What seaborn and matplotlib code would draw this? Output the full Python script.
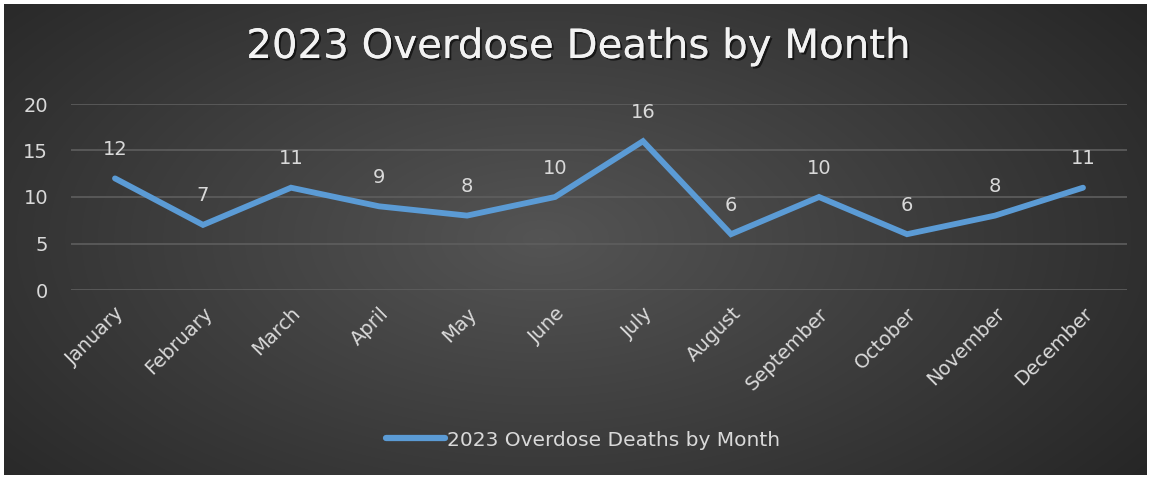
import numpy as np
import pandas as pd
import matplotlib
matplotlib.use("Agg")
import matplotlib.pyplot as plt
import matplotlib.patheffects as pe
import seaborn as sns

months = ["January", "February", "March", "April", "May", "June", "July",
          "August", "September", "October", "November", "December"]
deaths = [12, 7, 11, 9, 8, 10, 16, 6, 10, 6, 8, 11]
yticks = [0, 5, 10, 15, 20]
title = "2023 Overdose Deaths by Month"

sns.set_theme(style="dark")
plt.rcParams["font.family"] = ["DejaVu Sans"]

W, H = 1151, 479
fig = plt.figure(figsize=(W / 100, H / 100), dpi=100)
fig.patch.set_facecolor("white")

# background gradient
bg = fig.add_axes([4 / W, 4 / H, (W - 8) / W, (H - 8) / H])
yy, xx = np.mgrid[0:1:300j, 0:1:700j]
r = np.sqrt(((xx - 0.47) / 0.62) ** 2 + ((yy - 0.5) / 0.8) ** 2)
v = np.clip(0.33 - 0.17 * r, 0.15, 0.35)
img = np.dstack([v, v, v])
bg.imshow(img, aspect="auto", extent=[0, 1, 0, 1], interpolation="bilinear")
bg.set_axis_off()

ax = fig.add_axes([71 / W, 1 - 290 / H, (1127 - 71) / W, (290 - 104) / H])
ax.patch.set_alpha(0)
df = pd.DataFrame({"Month": months, "Deaths": deaths})
sns.lineplot(data=df, x="Month", y="Deaths", ax=ax, color="#5b9bd5", lw=4.2,
             sort=False, label=title, legend=False, solid_capstyle="round",
             solid_joinstyle="miter")
ax.set_xlim(-0.5, len(months) - 0.5)
ax.set_ylim(0, 20)
ax.set_yticks(yticks)
ax.yaxis.grid(True, color="#5e5e5e", lw=1.2)
ax.xaxis.grid(False)
for s in ax.spines.values():
    s.set_visible(False)
ax.set_xlabel("")
ax.set_ylabel("")
ax.tick_params(axis="y", colors="#d9d9d9", labelsize=14, pad=16.5, length=0)
ax.tick_params(axis="x", colors="#d9d9d9", labelsize=14, pad=10, length=0)
ax.set_xticks(range(len(months)))
ax.set_xticklabels(months, rotation=45, ha="right", rotation_mode="anchor")

for i, v_ in enumerate(deaths):
    ax.annotate(str(v_), (i, v_), xytext=(0, 14), textcoords="offset points",
                ha="center", va="bottom", color="#d9d9d9", fontsize=14)

fig.text(578 / W, 1 - 47 / H, title, ha="center", va="center", color="#f2f2f2",
         fontsize=29, path_effects=[pe.withSimplePatchShadow(offset=(1.5, -1.5),
                                                           shadow_rgbFace="black",
                                                           alpha=0.6),
                                    pe.Normal()])

leg = fig.legend(handles=ax.get_lines(), labels=[title], loc="center",
                 bbox_to_anchor=(583 / W, 1 - 440 / H), frameon=False,
                 fontsize=14.5, labelcolor="#d9d9d9", handlelength=2.9,
                 handletextpad=0.1)
for h in leg.get_lines():
    h.set_linewidth(4.5)

fig.savefig("out.png", dpi=100, facecolor="white")
